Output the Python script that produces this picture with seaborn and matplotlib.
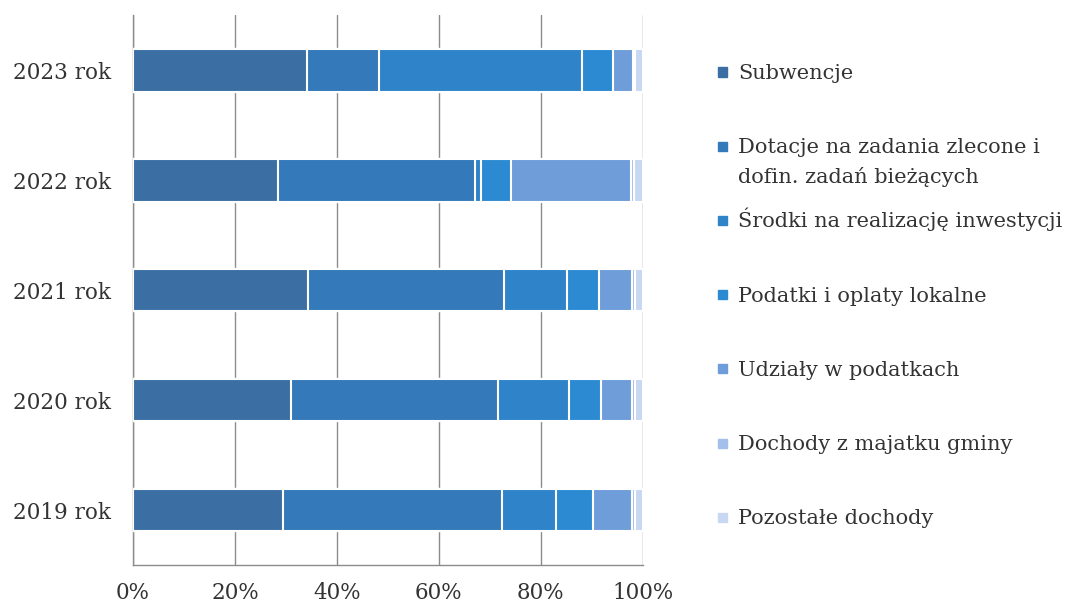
import matplotlib
matplotlib.use('Agg')
import matplotlib.pyplot as plt
import matplotlib.patches as mpatches
import pandas as pd
import seaborn as sns

# udział źródeł dochodów w latach (%)
years = ['2023 rok', '2022 rok', '2021 rok', '2020 rok', '2019 rok']
categories = [
    'Subwencje',
    'Dotacje na zadania zlecone i\ndofin. zadań bieżących',
    'Środki na realizację inwestycji',
    'Podatki i oplaty lokalne',
    'Udziały w podatkach',
    'Dochody z majatku gminy',
    'Pozostałe dochody',
]
subwencje = [34.1, 28.4, 34.4, 30.9, 29.4]
dotacje = [14.2, 38.6, 38.4, 40.6, 43.0]
srodki = [39.7, 1.3, 12.3, 14.0, 10.6]
podatki = [6.2, 5.9, 6.2, 6.2, 7.2]
udzialy = [3.8, 23.5, 6.5, 6.2, 7.7]
majatek = [0.5, 0.6, 0.6, 0.6, 0.6]
pozostale = [1.5, 1.7, 1.6, 1.5, 1.5]

colors = ['#3b6fa4', '#3479b9', '#2f84c9', '#2b8ad2', '#6f9dda', '#a3bfea', '#c8d8f3']
xticks = [0, 20, 40, 60, 80, 100]
xticklabels = ['0%', '20%', '40%', '60%', '80%', '100%']

series = [subwencje, dotacje, srodki, podatki, udzialy, majatek, pozostale]
df = pd.DataFrame(dict(zip(categories, series)), index=years)
cum = df.cumsum(axis=1)

sns.set_style('white')
plt.rcParams['font.family'] = ['DejaVu Serif']
grid_col = '#8c8c8c'
text_col = '#333333'

fig = plt.figure(figsize=(10.69, 6.11), dpi=100)
ax = fig.add_axes([0.1244, 0.0753, 0.477, 0.900])

# stacked bars: draw cumulative totals from the largest down
for cat, col in reversed(list(zip(categories, colors))):
    d = pd.DataFrame({'rok': years, 'wartosc': cum[cat].values})
    sns.barplot(data=d, x='wartosc', y='rok', order=years, color=col,
                saturation=1, width=0.39, edgecolor='white', linewidth=1.5,
                ax=ax, zorder=3)

ax.set_xlim(0, 100)
ax.set_ylim(4.5, -0.5)
ax.set_xticks(xticks)
ax.set_xticklabels(xticklabels)
ax.set_xlabel('')
ax.set_ylabel('')
ax.set_axisbelow(True)
ax.xaxis.grid(True, color=grid_col, lw=1)
ax.yaxis.grid(False)
ax.set_yticks([i - 0.5 for i in range(len(years) + 1)], minor=True)

for s in ['top', 'right']:
    ax.spines[s].set_visible(False)
for s in ['left', 'bottom']:
    ax.spines[s].set_color(grid_col)
    ax.spines[s].set_linewidth(1)

ax.tick_params(axis='x', which='major', direction='out', length=5, width=1,
               color=grid_col, labelsize=15.5, labelcolor=text_col, pad=7)
ax.tick_params(axis='y', which='major', length=0, labelsize=15.5,
               labelcolor=text_col, pad=16)
ax.tick_params(axis='y', which='minor', direction='out', length=5, width=1,
               color=grid_col)

# legend drawn by hand, markers aligned to the first line of each label
W, H = 1069, 611
y0, step = 72, 74.2
for i, (cat, col) in enumerate(zip(categories, colors)):
    yc = y0 + step * i
    fig.patches.append(mpatches.Rectangle(
        (717.5 / W, 1 - (yc + 4.5) / H), 9 / W, 9 / H,
        transform=fig.transFigure, color=col))
    for j, line in enumerate(cat.split('\n')):
        fig.text(738 / W, 1 - (yc + 7 + 30 * j) / H, line, va='baseline',
                 ha='left', fontsize=15, color=text_col)

fig.savefig('out.png', dpi=100)
